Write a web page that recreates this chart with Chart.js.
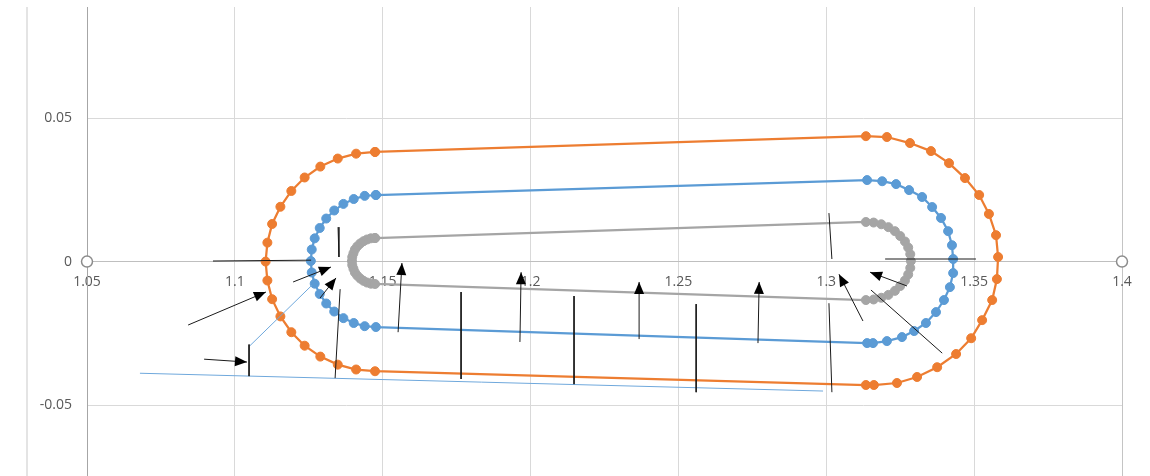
<!DOCTYPE html>
<html>
<head>
<meta charset="utf-8">
<script src="https://cdn.jsdelivr.net/npm/chart.js@4"></script>
<style>
  html, body { margin: 0; padding: 0; background: #ffffff; }
  canvas { display: block; }
</style>
</head>
<body>
<canvas id="loop-chart" width="1150" height="476"></canvas>
<script>
// axis setup
const xTicks = [1.05, 1.1, 1.15, 1.2, 1.25, 1.3, 1.35, 1.4];
const yTicks = [-0.05, 0, 0.05];
const xMin = 1.05, xMax = 1.4;
const yMin = -0.0747, yMax = 0.0887;

// outer loop (orange)
const orangeX = [1.1474, 1.1410, 1.1348, 1.1289, 1.1236, 1.1191, 1.1154, 1.1126, 1.1110, 1.1104,
  1.1110, 1.1126, 1.1154, 1.1191, 1.1236, 1.1289, 1.1348, 1.1410, 1.1474,
  1.3134, 1.3161, 1.3239, 1.3307, 1.3375, 1.3439, 1.3490, 1.3527, 1.3561, 1.3577,
  1.3581, 1.3574, 1.3550, 1.3517, 1.3469, 1.3415, 1.3354, 1.3283, 1.3205, 1.3134, 1.1474];
const orangeY = [0.0382, 0.0376, 0.0359, 0.0331, 0.0293, 0.0246, 0.0191, 0.0131, 0.0066, 0,
  -0.0066, -0.0131, -0.0191, -0.0246, -0.0293, -0.0331, -0.0359, -0.0376, -0.0382,
  -0.0430, -0.0430, -0.0423, -0.0402, -0.0368, -0.0322, -0.0267, -0.0204, -0.0134, -0.0061,
  0.0016, 0.0092, 0.0166, 0.0232, 0.0291, 0.0343, 0.0385, 0.0413, 0.0434, 0.0437, 0.0382];

// middle loop (blue)
const blueX = [1.1477, 1.1439, 1.1402, 1.1367, 1.1336, 1.1309, 1.1287, 1.1270, 1.1260, 1.1257,
  1.1260, 1.1270, 1.1287, 1.1309, 1.1336, 1.1367, 1.1402, 1.1439, 1.1477,
  1.3138, 1.3158, 1.3205, 1.3256, 1.3297, 1.3337, 1.3371, 1.3398, 1.3418, 1.3429,
  1.3429, 1.3425, 1.3412, 1.3388, 1.3358, 1.3324, 1.3280, 1.3236, 1.3189, 1.3138, 1.1477];
const blueY = [0.0232, 0.0229, 0.0218, 0.0201, 0.0178, 0.0150, 0.0117, 0.0081, 0.0042, 0.0002,
  -0.0038, -0.0077, -0.0113, -0.0146, -0.0174, -0.0197, -0.0214, -0.0225, -0.0228,
  -0.0284, -0.0284, -0.0277, -0.0263, -0.0242, -0.0214, -0.0176, -0.0134, -0.0089, -0.0040,
  0.0009, 0.0057, 0.0106, 0.0152, 0.0190, 0.0225, 0.0249, 0.0270, 0.0280, 0.0284, 0.0232];

// inner loop (gray)
const grayX = [1.1474, 1.1460, 1.1447, 1.1435, 1.1424, 1.1414, 1.1406, 1.1401, 1.1397, 1.1396,
  1.1397, 1.1401, 1.1406, 1.1414, 1.1424, 1.1435, 1.1447, 1.1460, 1.1474,
  1.3134, 1.3160, 1.3186, 1.3210, 1.3232, 1.3250, 1.3266, 1.3277, 1.3284, 1.3286,
  1.3284, 1.3277, 1.3266, 1.3250, 1.3232, 1.3210, 1.3186, 1.3160, 1.3134, 1.1474];
const grayY = [0.0082, 0.0081, 0.0077, 0.0071, 0.0063, 0.0053, 0.0042, 0.0029, 0.0016, 0.0002,
  -0.0012, -0.0025, -0.0038, -0.0049, -0.0059, -0.0067, -0.0073, -0.0077, -0.0078,
  -0.0134, -0.0132, -0.0126, -0.0116, -0.0102, -0.0085, -0.0066, -0.0045, -0.0022, 0.0002,
  0.0026, 0.0049, 0.0070, 0.0089, 0.0106, 0.0120, 0.0130, 0.0136, 0.0138, 0.0082];

// hand drawn marks: [x1, y1, x2, y2], arrows point at the second end
const arrowSegments = [
  [1.1197, -0.0071, 1.1325, -0.0019],
  [1.1288, -0.0127, 1.1342, -0.0057],
  [1.0842, -0.0221, 1.1105, -0.0106],
  [1.0896, -0.0340, 1.1041, -0.0350],
  [1.1552, -0.0246, 1.1565, -0.0005],
  [1.1964, -0.0280, 1.1968, -0.0037],
  [1.2367, -0.0270, 1.2367, -0.0071],
  [1.2769, -0.0284, 1.2773, -0.0071],
  [1.3124, -0.0207, 1.3043, -0.0044],
  [1.3273, -0.0085, 1.3148, -0.0037],
];
const plainSegments = [
  [1.0926, 0.0002, 1.1258, 0.0005],
  [1.1349, 0.0120, 1.1352, 0.0016],
  [1.1048, -0.0289, 1.1048, -0.0399],
  [1.1356, -0.0096, 1.1339, -0.0406],
  [1.1765, -0.0106, 1.1765, -0.0409],
  [1.2147, -0.0120, 1.2147, -0.0427],
  [1.2560, -0.0148, 1.2560, -0.0455],
  [1.3009, 0.0169, 1.3019, 0.0009],
  [1.3009, -0.0145, 1.3019, -0.0455],
  [1.3199, 0.0009, 1.3506, 0.0009],
  [1.3151, -0.0099, 1.3392, -0.0319],
];
const blueSegments = [
  [1.1051, -0.0293, 1.1261, -0.0082],
  [1.0679, -0.0389, 1.2989, -0.0451],
];

// frame line on the far left and the little round handles
const edgeX = [1.0297, 1.0297];
const edgeY = [yMax, yMin];
const handleX = [1.0297, 1.05, 1.4];
const handleY = [0, 0, 0];

const zip = (xs, ys) => xs.map((x, i) => ({ x: x, y: ys[i] }));

function loopSet(xs, ys, color) {
  return {
    data: zip(xs, ys),
    showLine: true,
    borderColor: color,
    borderWidth: 2.25,
    pointRadius: 4.5,
    pointBorderWidth: 1,
    pointBackgroundColor: color,
    pointBorderColor: color,
    order: 2,
  };
}

function segSet(seg, color, width, arrow) {
  return {
    data: [{ x: seg[0], y: seg[1] }, { x: seg[2], y: seg[3] }],
    showLine: true,
    borderColor: color,
    borderWidth: width,
    pointRadius: 0,
    arrow: arrow,
    order: 0,
  };
}

// filled arrow heads at the end of arrow datasets
const arrowHeads = {
  id: "arrowHeads",
  afterDatasetsDraw(chart) {
    const ctx = chart.ctx;
    chart.data.datasets.forEach((ds, i) => {
      if (!ds.arrow) return;
      const pts = chart.getDatasetMeta(i).data;
      const a = pts[0], b = pts[1];
      const ang = Math.atan2(b.y - a.y, b.x - a.x);
      ctx.save();
      ctx.translate(b.x, b.y);
      ctx.rotate(ang);
      ctx.fillStyle = "#000000";
      ctx.beginPath();
      ctx.moveTo(0, 0);
      ctx.lineTo(-12, -5);
      ctx.lineTo(-12, 5);
      ctx.closePath();
      ctx.fill();
      ctx.restore();
    });
  },
};

const datasets = [
  ...arrowSegments.map((s) => segSet(s, "#1a1a1a", 1, true)),
  ...plainSegments.map((s) => segSet(s, "#1a1a1a", 1, false)),
  ...blueSegments.map((s) => segSet(s, "#6fa8dc", 1, false)),
  loopSet(grayX, grayY, "#a5a5a5"),
  loopSet(blueX, blueY, "#5b9bd5"),
  loopSet(orangeX, orangeY, "#ed7d31"),
  {
    data: zip(edgeX, edgeY),
    showLine: true,
    borderColor: "#e0e0e0",
    borderWidth: 1,
    pointRadius: 0,
    clip: false,
    order: 5,
  },
  {
    data: zip(handleX, handleY),
    showLine: false,
    pointRadius: 5.5,
    pointBorderWidth: 1.5,
    pointBackgroundColor: "#ffffff",
    pointBorderColor: "#8c8c8c",
    clip: false,
    order: -1,
  },
];

const tickFont = { family: "'Open Sans', 'Liberation Sans', sans-serif", size: 14 };

// keep the axes from asking for extra room round the plot
function noMargins(s) {
  s.paddingLeft = 0; s.paddingRight = 0; s.paddingTop = 0; s.paddingBottom = 0;
}

new Chart(document.getElementById("loop-chart").getContext("2d"), {
  type: "scatter",
  data: { datasets: datasets },
  options: {
    responsive: false,
    animation: false,
    layout: { autoPadding: false, padding: { left: 27, top: 7, right: 28, bottom: 0 } },
    plugins: {
      legend: { display: false },
      tooltip: { enabled: false },
    },
    elements: { line: { tension: 0 } },
    scales: {
      x: {
        type: "linear",
        min: xMin,
        max: xMax,
        position: { y: 0 },
        afterBuildTicks: (s) => { s.ticks = xTicks.map((v) => ({ value: v })); },
        afterFit: (s) => { s.height = 0; noMargins(s); },
        ticks: {
          color: "#595959",
          font: tickFont,
          padding: 12,
          maxRotation: 0,
          autoSkip: false,
          callback: (v) => String(v),
        },
        grid: {
          color: (c) => (c.tick && c.tick.value === 1.4 ? "#c4c4c4" : "#d9d9d9"),
          drawTicks: false,
        },
        border: { color: "#bfbfbf", width: 1 },
      },
      y: {
        type: "linear",
        min: yMin,
        max: yMax,
        position: "left",
        afterBuildTicks: (s) => { s.ticks = yTicks.map((v) => ({ value: v })); },
        afterFit: (s) => { s.width = 60; noMargins(s); },
        ticks: {
          color: "#595959",
          font: tickFont,
          padding: 15,
          callback: (v) => String(v),
        },
        grid: { color: "#d9d9d9", drawTicks: false },
        border: { color: "#a6a6a6", width: 1 },
      },
    },
  },
  plugins: [arrowHeads],
});
</script>
</body>
</html>
